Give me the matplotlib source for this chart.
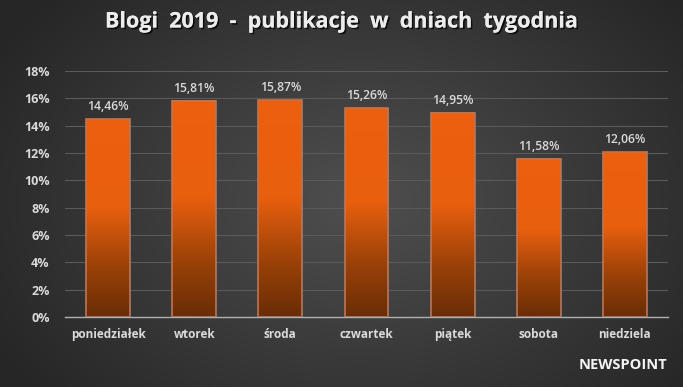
import numpy as np
import matplotlib
matplotlib.use("Agg")
import matplotlib.pyplot as plt
import matplotlib.patheffects as pe
from matplotlib.colors import LinearSegmentedColormap

plt.rcParams['font.family'] = ['Open Sans', 'DejaVu Sans']

days = ["poniedziałek", "wtorek", "środa", "czwartek", "piątek", "sobota", "niedziela"]
shares = [14.46, 15.81, 15.87, 15.26, 14.95, 11.58, 12.06]
labels = ["14,46%", "15,81%", "15,87%", "15,26%", "14,95%", "11,58%", "12,06%"]
yticks = [0, 2, 4, 6, 8, 10, 12, 14, 16, 18]

text_col = "#dadada"

fig = plt.figure(figsize=(6.83, 3.87), dpi=100)

# radial background
bg = fig.add_axes([0, 0, 1, 1])
bg.set_axis_off()
yy, xx = np.mgrid[0:387, 0:683]
r = np.sqrt(((xx - 360) / 420.0) ** 2 + ((yy - 200) / 300.0) ** 2)
r = np.clip(r, 0, 1)
shade = 0.31 - 0.16 * r
bg.imshow(np.dstack([shade, shade, shade]), extent=[0, 1, 0, 1], aspect='auto', zorder=0)
bg.set_xlim(0, 1)
bg.set_ylim(0, 1)

ax = fig.add_axes([65 / 683, 1 - 317 / 387, 603 / 683, 246 / 387])
ax.patch.set_alpha(0)

bar_cmap = LinearSegmentedColormap.from_list(
    "bar", [(0.0, "#6a2d06"), (0.25, "#9a4108"), (0.55, "#e85f0e"), (1.0, "#ec600e")])
grad = np.linspace(0, 1, 256).reshape(-1, 1)

x = np.arange(len(days))
w = 0.51
for xi, h in zip(x, shares):
    ax.imshow(grad, cmap=bar_cmap, origin='lower', aspect='auto',
              extent=[xi - w / 2, xi + w / 2, 0, h], zorder=2)
bars = ax.bar(x, shares, width=w, facecolor='none', edgecolor='#b8775a', linewidth=1.2, zorder=3)

for xi, h, lab in zip(x, shares, labels):
    ax.text(xi, h + 0.45, lab, ha='center', va='bottom', color=text_col,
            fontsize=8.7, fontweight='semibold')

ax.set_xlim(-0.5, len(days) - 0.5)
ax.set_ylim(0, 18)
ax.set_yticks(yticks)
ax.set_yticklabels([f"{t}%" for t in yticks])
ax.set_xticks(x)
ax.set_xticklabels(days)
ax.grid(axis='y', color='#5a5a5a', linewidth=0.8, zorder=1)
ax.set_axisbelow(True)
for s in ['top', 'right', 'left']:
    ax.spines[s].set_visible(False)
ax.spines['bottom'].set_color('#b0b0b0')
ax.spines['bottom'].set_linewidth(1.0)
ax.tick_params(axis='y', length=0, colors=text_col, labelsize=9, pad=11)
ax.tick_params(axis='x', length=0, colors=text_col, labelsize=8.5, pad=8)
for t in ax.get_yticklabels() + ax.get_xticklabels():
    t.set_fontweight('bold')

fig.text(0.5, 1 - 22 / 387, "Blogi  2019  -  publikacje  w  dniach  tygodnia",
         ha='center', va='center', color='#ececec', fontsize=15.5, fontweight='bold',
         path_effects=[pe.withSimplePatchShadow(offset=(1.2, -1.2), shadow_rgbFace='black', alpha=0.7),
                       pe.Normal()])

fig.text(667 / 683, 1 - 365 / 387, "NEWSPOINT", ha='right', va='center',
         color='#f4f4f4', fontsize=10.5, fontweight='bold')

fig.savefig("out.png", dpi=100)
